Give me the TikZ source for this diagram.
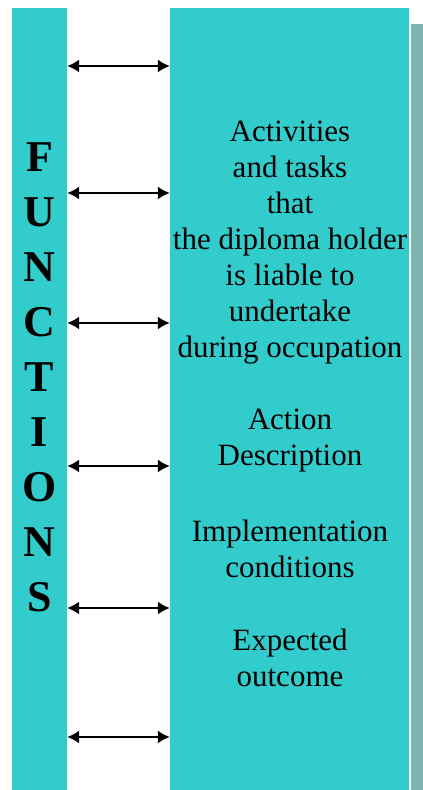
\documentclass[tikz,border=0pt]{standalone}
\usepackage{fontspec}
\setmainfont{Liberation Serif}
\usetikzlibrary{arrows.meta}
\definecolor{barteal}{RGB}{51,204,204}
\definecolor{shadowgrey}{RGB}{126,181,178}
\begin{document}
\begin{tikzpicture}[x=1pt,y=-1pt,
    bar/.style={fill=barteal,draw=none,inner sep=0pt},
    letter/.style={font=\fontsize{44}{44}\selectfont\bfseries,inner sep=0pt},
    block/.style={align=center,font=\fontsize{31}{36}\selectfont,inner sep=0pt},
    link/.style={{Latex[length=12pt,width=13pt]}-{Latex[length=12pt,width=13pt]},line width=1.8pt}]
          \useasboundingbox (0,0) rectangle (423,790);
          %bars
          \fill[shadowgrey] (411,24) rectangle (423,790);
          \node[bar,minimum width=55pt,minimum height=782pt] (functions) at (39.5,399) {};
          \node[bar,minimum width=239pt,minimum height=782pt] (content) at (289.5,399) {};
          %letters
          \foreach \l [count=\i] in {F,U,N,C,T,I,O,N,S}
            \node[letter] (l\i) at (39.5,102+55*\i) {\l};
          %texts
          \node[block] (tasks) at (290,243) {Activities\\and tasks\\that\\the diploma holder\\is liable to\\undertake\\during occupation};
          \node[block] (action) at (290,441) {Action\\Description};
          \node[block] (conditions) at (290,549) {Implementation\\conditions};
          \node[block] (outcome) at (290,658) {Expected\\outcome};
          %arrows
          \foreach \y [count=\i] in {66,193,323,466,608,737} {
            \coordinate (a\i) at (functions.east |- 0,\y);
            \coordinate (b\i) at (content.west |- 0,\y);
            \draw[link] (a\i)--(b\i);
          }
\end{tikzpicture}
\end{document}
